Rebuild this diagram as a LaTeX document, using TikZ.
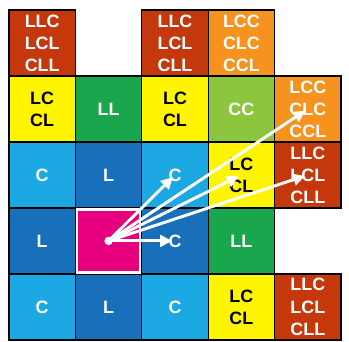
\documentclass[tikz,border=0pt]{standalone}
\usepackage{fontspec}
\setmainfont{Liberation Sans}
\usetikzlibrary{arrows.meta}

\definecolor{tred}{RGB}{196,56,12}
\definecolor{torange}{RGB}{246,146,30}
\definecolor{tyellow}{RGB}{255,245,0}
\definecolor{tgreen}{RGB}{26,166,76}
\definecolor{tlime}{RGB}{140,198,63}
\definecolor{tsky}{RGB}{28,168,226}
\definecolor{tblue}{RGB}{24,112,186}
\definecolor{tpink}{RGB}{230,0,126}

\tikzset{
  cell/.style={draw=black,line width=.9pt,minimum width=1.5cm,minimum height=1.49cm,
    inner sep=0pt,align=center,text=white,font=\fontsize{11.5}{14.2}\selectfont\bfseries},
  dark/.style={cell,text=black},
  ray/.style={white,line width=1.9pt,shorten >=2pt,-{Triangle[length=7.5pt,width=7.5pt]}}
}

\begin{document}
\begin{tikzpicture}[x=1.5cm,y=1.49cm]
\useasboundingbox (-.135,-.03) rectangle (5.12,5.152);
% top row
\node[cell,fill=tred] (a5) at (.5,4.5) {LLC\\LCL\\CLL};
\node[cell,fill=tred] (c5) at (2.5,4.5) {LLC\\LCL\\CLL};
\node[cell,fill=torange] (d5) at (3.5,4.5) {LCC\\CLC\\CCL};
% second row
\node[dark,fill=tyellow] (a4) at (.5,3.5) {LC\\CL};
\node[cell,fill=tgreen] (b4) at (1.5,3.5) {LL};
\node[dark,fill=tyellow] (c4) at (2.5,3.5) {LC\\CL};
\node[cell,fill=tlime] (d4) at (3.5,3.5) {CC};
\node[cell,fill=torange] (e4) at (4.5,3.5) {LCC\\CLC\\CCL};
% third row
\node[cell,fill=tsky] (a3) at (.5,2.5) {C};
\node[cell,fill=tblue] (b3) at (1.5,2.5) {L};
\node[cell,fill=tsky] (c3) at (2.5,2.5) {C};
\node[dark,fill=tyellow] (d3) at (3.5,2.5) {LC\\CL};
\node[cell,fill=tred] (e3) at (4.5,2.5) {LLC\\LCL\\CLL};
% fourth row
\node[cell,fill=tblue] (a2) at (.5,1.5) {L};
\node[cell,fill=tblue] (c2) at (2.5,1.5) {C};
\node[cell,fill=tgreen] (d2) at (3.5,1.5) {LL};
% bottom row
\node[cell,fill=tsky] (a1) at (.5,.5) {C};
\node[cell,fill=tblue] (b1) at (1.5,.5) {L};
\node[cell,fill=tsky] (c1) at (2.5,.5) {C};
\node[dark,fill=tyellow] (d1) at (3.5,.5) {LC\\CL};
\node[cell,fill=tred] (e1) at (4.5,.5) {LLC\\LCL\\CLL};
% current cell
\node[draw=black,line width=.9pt,fill=tpink,minimum width=1.5cm,minimum height=1.49cm] (b2) at (1.5,1.5) {};
\node[draw=white,line width=1.5pt,minimum width=1.43cm,minimum height=1.42cm] (p) at (b2) {};
\draw[ray] (b2.center)--(c2.center);
\draw[ray] (b2.center)--(c3.center);
\draw[ray] (b2.center)--(d3.center);
\draw[ray] (b2.center)--(e3.center);
\draw[ray] (b2.center)--(e4.center);
\fill[white] (b2.center) circle (2.7pt);
\end{tikzpicture}
\end{document}
